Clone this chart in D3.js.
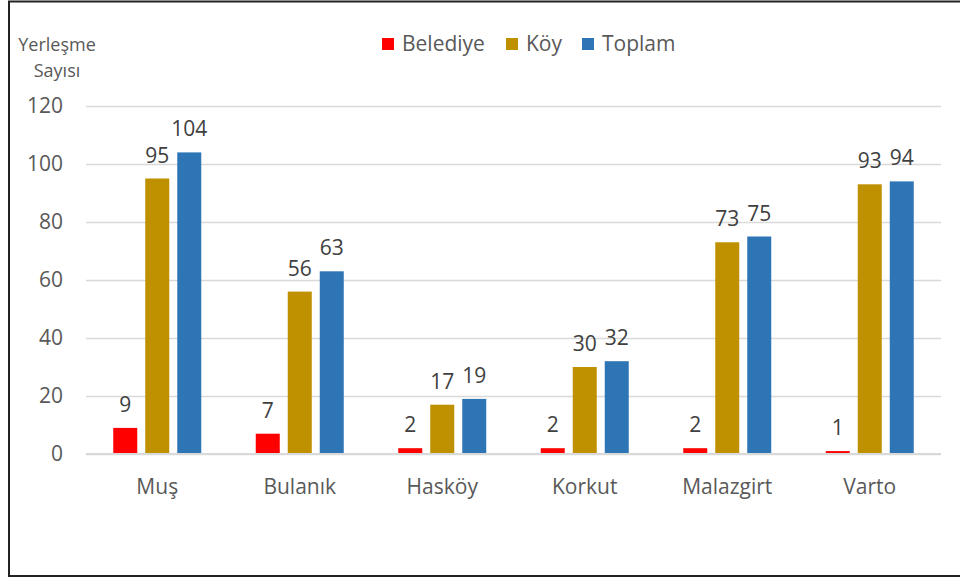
<!DOCTYPE html>
<html lang="tr">
<head>
<meta charset="utf-8">
<title>Yerleşme Sayısı</title>
<script src="https://d3js.org/d3.v7.min.js"></script>
<style>
  body { margin: 0; background: #fff; }
  text { font-family: "Open Sans", "Noto Sans", sans-serif; fill: #595959; }
</style>
</head>
<body>
<script>
// data
var districts = ["Muş", "Bulanık", "Hasköy", "Korkut", "Malazgirt", "Varto"];
var belediye = [9, 7, 2, 2, 2, 1];
var koy = [95, 56, 17, 30, 73, 93];
var toplam = [104, 63, 19, 32, 75, 94];
var seriesNames = ["Belediye", "Köy", "Toplam"];
var seriesColors = ["#ff0000", "#bf9000", "#2e75b6"];
var yTicks = [0, 20, 40, 60, 80, 100, 120];

var w = 960, h = 581;
var margin = {top: 106, right: 19, bottom: 127, left: 86};
var iw = w - margin.left - margin.right;
var ih = h - margin.top - margin.bottom;

var svg = d3.select("body").append("svg")
    .attr("width", w)
    .attr("height", h);

// outer frame (right edge falls outside the picture)
svg.append("rect")
    .attr("x", 9).attr("y", 1.5)
    .attr("width", 980).attr("height", 574.5)
    .style("fill", "none")
    .style("stroke", "#222")
    .style("stroke-width", 2);

var g = svg.append("g")
    .attr("transform", "translate(" + margin.left + "," + margin.top + ")");

var x0 = d3.scaleBand().domain(districts).range([0, iw]);
var x1 = d3.scaleBand().domain(seriesNames).range([-44, 44]).paddingInner(0.25);
var y = d3.scaleLinear().domain([0, 120]).range([ih, 0]);

// gridlines
var yAxis = d3.axisLeft(y).tickValues(yTicks).tickSize(-iw).tickPadding(23);
g.append("g").call(yAxis)
  .call(function(a) {
    a.select(".domain").remove();
    a.selectAll("line").style("stroke", "#d9d9d9").style("stroke-width", 1.3);
    a.selectAll("text").style("font-size", "21px").style("fill", "#595959")
      .style("font-family", "Open Sans, sans-serif");
  });

var rows = districts.map(function(d, i) {
  return {name: d, values: [belediye[i], koy[i], toplam[i]]};
});

var grp = g.selectAll(".grp")
    .data(rows)
    .enter().append("g")
    .attr("class", "grp")
    .attr("transform", function(d) { return "translate(" + (x0(d.name) + x0.bandwidth() / 2) + ",0)"; });

grp.selectAll("rect")
    .data(function(d) { return d.values.map(function(v, k) { return {s: seriesNames[k], v: v, k: k}; }); })
    .enter().append("rect")
    .attr("x", function(d) { return x1(d.s); })
    .attr("width", x1.bandwidth())
    .attr("y", function(d) { return y(d.v); })
    .attr("height", function(d) { return ih - y(d.v); })
    .style("fill", function(d) { return seriesColors[d.k]; });

grp.selectAll(".lbl")
    .data(function(d) { return d.values.map(function(v, k) { return {s: seriesNames[k], v: v}; }); })
    .enter().append("text")
    .attr("class", "lbl")
    .attr("x", function(d) { return x1(d.s) + x1.bandwidth() / 2; })
    .attr("y", function(d) { return y(d.v) - 16; })
    .attr("text-anchor", "middle")
    .style("font-size", "21px")
    .style("fill", "#404040")
    .text(function(d) { return d.v; });

// baseline
g.append("line")
    .attr("x1", 0).attr("x2", iw)
    .attr("y1", ih).attr("y2", ih)
    .style("stroke", "#d9d9d9").style("stroke-width", 2);

// category labels
g.selectAll(".cat")
    .data(districts)
    .enter().append("text")
    .attr("class", "cat")
    .attr("x", function(d) { return x0(d) + x0.bandwidth() / 2; })
    .attr("y", ih + 40)
    .attr("text-anchor", "middle")
    .style("font-size", "21px")
    .text(function(d) { return d; });

// y title
svg.append("text").attr("x", 57).attr("y", 51).attr("text-anchor", "middle")
    .style("font-size", "18px").text("Yerleşme");
svg.append("text").attr("x", 57).attr("y", 77).attr("text-anchor", "middle")
    .style("font-size", "18px").text("Sayısı");

// legend
var legendX = [382, 506, 582];
var leg = svg.selectAll(".leg")
    .data(seriesNames)
    .enter().append("g")
    .attr("class", "leg")
    .attr("transform", function(d, i) { return "translate(" + legendX[i] + ",38)"; });
leg.append("rect").attr("width", 12).attr("height", 12)
    .style("fill", function(d, i) { return seriesColors[i]; });
leg.append("text").attr("x", 20).attr("y", 13)
    .style("font-size", "21px")
    .text(function(d) { return d; });
</script>
</body>
</html>
